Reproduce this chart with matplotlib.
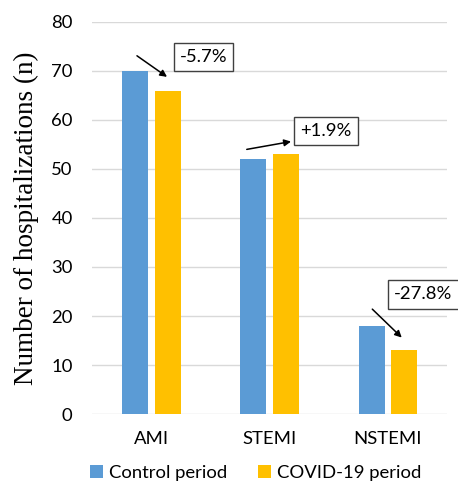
import matplotlib
matplotlib.use("Agg")
import matplotlib.pyplot as plt
import numpy as np

categories = ["AMI", "STEMI", "NSTEMI"]
control = [70, 52, 18]
covid = [66, 53, 13]
changes = ["-5.7%", "+1.9%", "-27.8%"]

blue = "#5B9BD5"
gold = "#FFC000"

plt.rcParams["font.family"] = ["Lato", "DejaVu Sans"]

fig = plt.figure(figsize=(4.58, 4.84), dpi=100)
ax = fig.add_axes([0.2009, 0.1446, 0.775, 0.81])

x = np.arange(len(categories))
w = 0.22
ax.bar(x - 0.137, control, w, color=blue, label="Control period", zorder=3)
ax.bar(x + 0.14, covid, w, color=gold, label="COVID-19 period", zorder=3)

ax.set_xlim(-0.5, 2.5)
ax.set_ylim(0, 80)
ax.set_yticks(range(0, 81, 10))
ax.set_xticks(x)
ax.set_xticklabels(categories)
ax.tick_params(axis="both", length=0, labelsize=13.3)
ax.tick_params(axis="y", pad=14)
ax.tick_params(axis="x", pad=12)
ax.grid(axis="y", color="#D9D9D9", linewidth=1, zorder=0)
for s in ax.spines.values():
    s.set_visible(False)

ax.set_ylabel("Number of hospitalizations (n)", family="Liberation Serif",
              fontsize=19.5, labelpad=9)

# arrows with change labels: (arrow start, arrow end, box centre)
arrow_from = [(-0.12, 73.1), (0.808, 54.0), (1.869, 21.4)]
arrow_to = [(0.134, 68.8), (1.182, 55.6), (2.118, 15.6)]
box_at = [(0.443, 72.9), (1.478, 57.8), (2.302, 24.4)]
for txt, a, b, c in zip(changes, arrow_from, arrow_to, box_at):
    ax.annotate("", xy=b, xytext=a,
                arrowprops=dict(arrowstyle="-|>", color="black", lw=1.1,
                                mutation_scale=10, shrinkA=0, shrinkB=0))
    ax.text(c[0], c[1], txt, ha="center", va="center", fontsize=13.3,
            bbox=dict(boxstyle="square,pad=0.33", fc="white", ec="#404040", lw=1),
            zorder=5, clip_on=False)

fig.legend(loc="center", bbox_to_anchor=(0.558, 0.023), ncol=2, frameon=False,
           fontsize=13.3, handlelength=0.7, handleheight=0.7, handletextpad=0.3,
           columnspacing=1.7)

fig.savefig("out.png", dpi=100)
